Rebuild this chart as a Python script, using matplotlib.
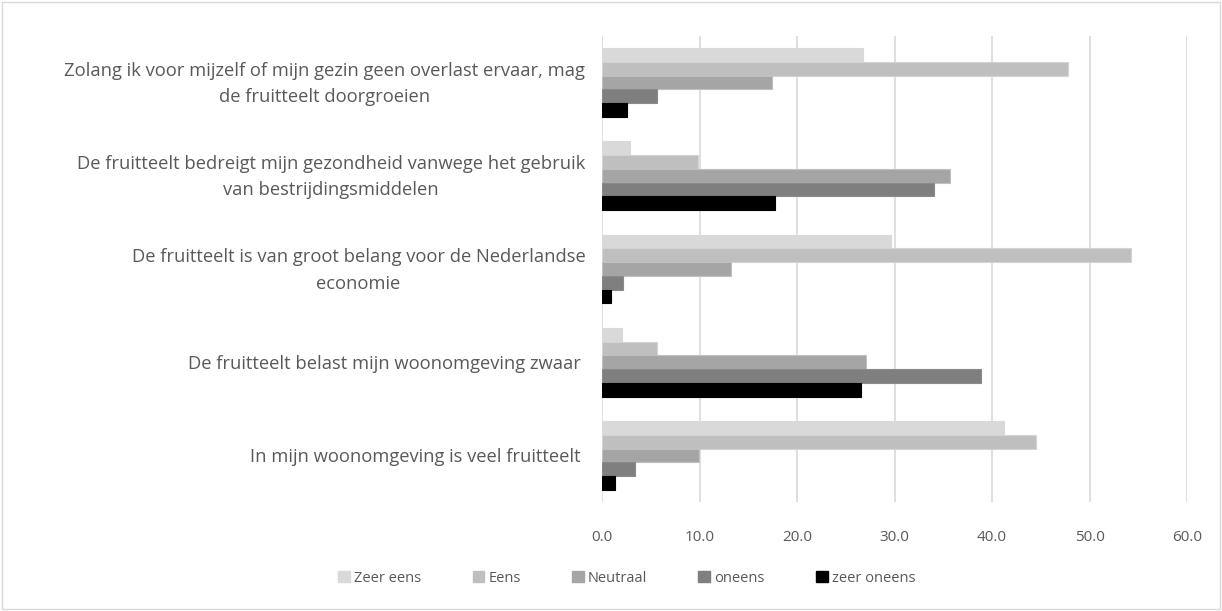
import matplotlib
matplotlib.use("Agg")
import matplotlib.pyplot as plt
import matplotlib.transforms as mtransforms
import numpy as np
from matplotlib.patches import Patch, Rectangle

categories = [
    "Zolang ik voor mijzelf of mijn gezin geen overlast ervaar, mag\nde fruitteelt doorgroeien",
    "De fruitteelt bedreigt mijn gezondheid vanwege het gebruik\nvan bestrijdingsmiddelen",
    "De fruitteelt is van groot belang voor de Nederlandse\neconomie",
    "De fruitteelt belast mijn woonomgeving zwaar ",
    "In mijn woonomgeving is veel fruitteelt ",
]
series_names = ["Zeer eens", "Eens", "Neutraal", "oneens", "zeer oneens"]
zeer_eens = [26.8, 2.9, 29.6, 2.0, 41.2]
eens = [47.8, 9.8, 54.3, 5.6, 44.5]
neutraal = [17.4, 35.7, 13.2, 27.1, 9.9]
oneens = [5.6, 34.1, 2.2, 38.9, 3.4]
zeer_oneens = [2.6, 17.7, 0.9, 26.6, 1.3]
xticks = [0, 10, 20, 30, 40, 50, 60]

series = [zeer_eens, eens, neutraal, oneens, zeer_oneens]
colors = ["#d9d9d9", "#bfbfbf", "#a5a5a5", "#7f7f7f", "#000000"]
edges = ["#d9d9d9", "#d4d4d4", "#c0c0c0", "#8a8a8a", "#000000"]

plt.rcParams['font.family'] = ['Open Sans', 'DejaVu Sans']
txt = "#595959"

fig = plt.figure(figsize=(12.22, 6.11), dpi=100)
ax = fig.add_axes([602/1222, 1 - 502/611, (1187 - 602)/1222, (502 - 36)/611])

n = len(categories)
y = np.arange(n)
bh = 0.148
for i, (vals, c, e) in enumerate(zip(series, colors, edges)):
    offs = (i - 2) * bh
    ax.barh(y + offs, vals, height=bh, color=c, edgecolor=e, linewidth=0.8,
            label=series_names[i], zorder=3)

ax.set_ylim(n - 0.5, -0.5)
ax.set_xlim(0, 60)
ax.set_xticks(xticks)
ax.set_xticklabels([f"{v:.1f}" for v in xticks], color=txt, fontsize=11)
ax.set_yticks(y)
ax.set_yticklabels(categories, color=txt, fontsize=13.2, ha='right',
                   multialignment='center', linespacing=1.6)
ax.tick_params(axis='x', length=0, pad=20)
ax.tick_params(axis='y', length=0, pad=12)
shift = mtransforms.ScaledTranslation(0, 3.5 / 72, fig.dpi_scale_trans)
for lab in ax.get_yticklabels():
    if "\n" in lab.get_text():
        lab.set_transform(lab.get_transform() + shift)
ax.grid(axis='x', color="#d9d9d9", linewidth=1.2, zorder=0)
for s in ax.spines.values():
    s.set_visible(False)

handles = [Patch(facecolor=c, edgecolor=c) for c in colors]
fig.legend(handles, series_names, loc='center', bbox_to_anchor=(0.513, 0.054), ncol=5,
           frameon=False, fontsize=10.5, labelcolor=txt, handlelength=0.8, handleheight=0.8,
           handletextpad=0.3, columnspacing=3.5)

fig.patches.append(Rectangle((0.002, 0.003), 0.996, 0.994, transform=fig.transFigure,
                             fill=False, edgecolor="#d9d9d9", linewidth=1))
fig.savefig("out.png", dpi=100, facecolor="white")
